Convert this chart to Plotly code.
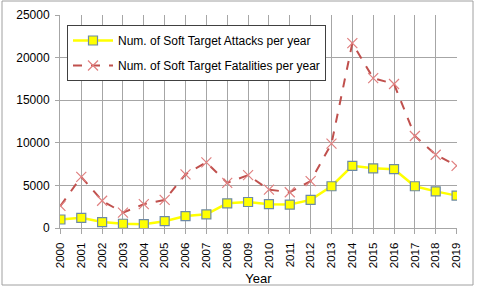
import plotly.graph_objects as go

years = [str(y) for y in range(2000, 2020)]
attacks = [1000, 1200, 700, 500, 450, 800, 1400, 1600, 2900, 3050, 2800, 2750, 3300, 4900,
           7300, 7000, 6900, 4900, 4300, 3800]
fatalities = [2600, 6000, 3200, 1800, 2800, 3300, 6300, 7700, 5300, 6200, 4500, 4200, 5500, 9900,
              21700, 17600, 16900, 10800, 8600, 7300]
y_ticks = [0, 5000, 10000, 15000, 20000, 25000]

L, R, T, B = 60, 23, 15, 61
W, H = 480, 289
pw, ph = W - L - R, H - T - B

def px(x):
    return (x - L) / pw

def py(y):
    return (H - B - y) / ph

fig = go.Figure()
fig.add_trace(go.Scatter(
    x=years, y=attacks, mode="lines+markers",
    name="Num. of Soft Target Attacks per year", legendgroup="a",
    line=dict(color="#ffff00", width=2.5),
    marker=dict(symbol="square", size=9, color="#ffff00",
                line=dict(color="#6d8aa6", width=1.2)),
))
fig.add_trace(go.Scatter(
    x=years, y=fatalities, mode="lines+markers",
    name="Num. of Soft Target Fatalities per year", legendgroup="b",
    line=dict(color="#c0504d", width=2, dash="dash"),
    marker=dict(symbol="x-thin", size=10, color="#e08080",
                line=dict(color="#e08080", width=1.2)),
))

fig.update_layout(
    width=W, height=H,
    margin=dict(l=L, r=R, t=T, b=B, pad=0, autoexpand=False),
    paper_bgcolor="white", plot_bgcolor="white",
    font=dict(family="Arial, Liberation Sans", size=12, color="#000000"),
    showlegend=True,
    legend=dict(x=px(67), y=py(25), xanchor="left", yanchor="top",
                bgcolor="white", bordercolor="#404040", borderwidth=1,
                font=dict(size=12), itemwidth=40,
                traceorder="grouped", tracegroupgap=6),
    xaxis=dict(
        type="category", showgrid=True, gridcolor="#a6a6a6", gridwidth=1,
        showline=True, linecolor="#a6a6a6", linewidth=1,
        tickangle=-90, tickfont=dict(size=11.5), automargin=False,
        ticks="outside", ticklen=5, tickcolor="#a6a6a6", ticklabelstandoff=4,
        title=dict(text="Year", font=dict(size=13), standoff=6),
        range=[-0.02, 19.02],
    ),
    yaxis=dict(
        range=[0, 25000], tickvals=y_ticks, tickformat="d", automargin=False,
        showgrid=True, gridcolor="#a6a6a6", gridwidth=1,
        showline=True, linecolor="#a6a6a6", linewidth=1,
        ticks="outside", ticklen=4, tickcolor="#a6a6a6", ticklabelstandoff=3,
        zeroline=False, tickfont=dict(size=12),
    ),
    shapes=[dict(type="rect", xref="paper", yref="paper",
                 x0=px(2), x1=px(473), y0=py(1), y1=py(285),
                 line=dict(color="#a0a0a0", width=1), layer="above")],
)

fig.write_html("out.html", config={"displayModeBar": False},
               post_script="document.body.style.margin='0';")
